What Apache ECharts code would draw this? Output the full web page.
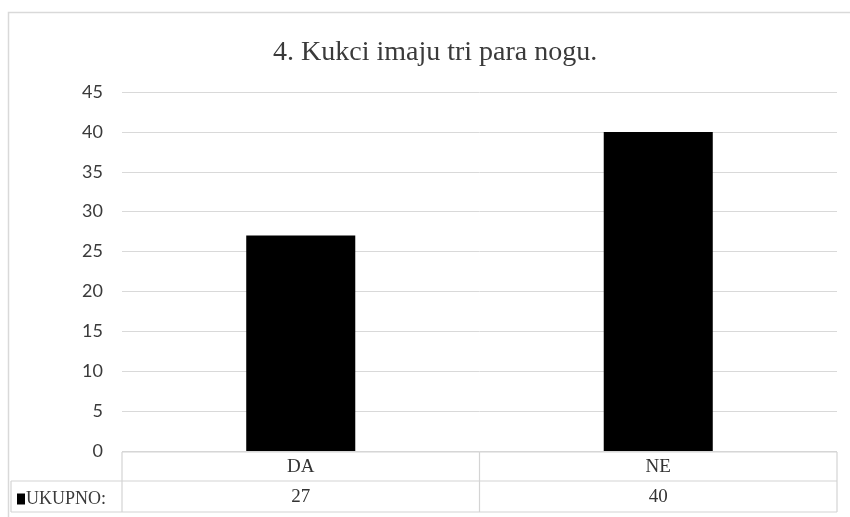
<!DOCTYPE html>
<html>
<head>
<meta charset="utf-8">
<script src="https://cdn.jsdelivr.net/npm/echarts@6/dist/echarts.min.js"></script>
<style>
  html, body { margin: 0; padding: 0; background: #fff; }
  #chart { width: 850px; height: 517px; }
</style>
</head>
<body>
<div id="chart"></div>
<script>
var titleText = "4. Kukci imaju tri para nogu.";
var categories = ["DA", "NE"];
var seriesName = "UKUPNO:";
var values = [27, 40];
var yTicks = { min: 0, max: 45, interval: 5 };

var serif = "'Liberation Serif', 'Times New Roman', serif";
var lineColor = "#d4d4d4";

var myChart = echarts.init(document.getElementById("chart"));

var option = {
  animation: false,
  title: {
    text: titleText,
    left: 268,
    top: 34,
    textStyle: {
      fontFamily: serif,
      fontSize: 28,
      fontWeight: "normal",
      color: "#3a3a3a",
    },
  },
  legend: {
    data: [seriesName],
    left: 12,
    top: 485,
    icon: "rect",
    itemWidth: 8,
    itemHeight: 11,
    textStyle: {
      fontFamily: serif,
      fontSize: 18,
      color: "#3a3a3a",
      padding: [0, 0, 0, -4],
    },
  },
  grid: {
    left: 122,
    right: 13,
    top: 92,
    bottom: 66,
  },
  xAxis: {
    type: "category",
    data: categories,
    axisLine: { show: false },
    axisTick: { show: false },
    axisLabel: {
      margin: 1,
      formatter: function (name, idx) {
        return "{a|" + name + "}\n{a|" + values[idx] + "}";
      },
      rich: {
        a: {
          fontFamily: serif,
          fontSize: 19,
          color: "#333",
          lineHeight: 30,
        },
      },
    },
  },
  yAxis: {
    type: "value",
    min: yTicks.min,
    max: yTicks.max,
    interval: yTicks.interval,
    axisLine: { show: false },
    axisTick: { show: false },
    axisLabel: {
      margin: 19,
      fontFamily: "Lato, 'Open Sans', sans-serif",
      fontSize: 18,
      color: "#3a3a3a",
    },
    splitLine: { lineStyle: { color: "#d9d9d9", width: 1 } },
  },
  series: [
    {
      name: seriesName,
      type: "bar",
      data: values,
      barWidth: "30.5%",
      itemStyle: { color: "#000" },
    },
  ],
};

myChart.setOption(option);

// data table lines under the plot
var c0 = myChart.convertToPixel({ xAxisIndex: 0 }, categories[0]);
var c1 = myChart.convertToPixel({ xAxisIndex: 0 }, categories[1]);
var band = c1 - c0;
var xLeft = c0 - band / 2;
var xMid = c0 + band / 2;
var xRight = c1 + band / 2;
var yTop = myChart.convertToPixel({ yAxisIndex: 0 }, yTicks.min) + 1;
var yRow = yTop + 29;
var yBot = yRow + 31;
var xLegend = 11;

function seg(x1, y1, x2, y2) {
  return {
    type: "line",
    shape: { x1: x1, y1: y1, x2: x2, y2: y2 },
    style: { stroke: lineColor, lineWidth: 1.2 },
    silent: true,
  };
}

myChart.setOption({
  graphic: [
    {
      type: "rect",
      shape: { x: 8.5, y: 12.5, width: 900, height: 600 },
      style: { fill: null, stroke: "#d9d9d9", lineWidth: 1.5 },
      silent: true,
    },
    seg(xLeft, yTop, xRight, yTop),
    seg(xLegend, yRow, xRight, yRow),
    seg(xLegend, yBot, xRight, yBot),
    seg(xLeft, yTop, xLeft, yBot),
    seg(xMid, yTop, xMid, yBot),
    seg(xRight, yTop, xRight, yBot),
    seg(xLegend, yRow, xLegend, yBot),
  ],
});

window.addEventListener("resize", function () {
  myChart.resize();
});
</script>
</body>
</html>
